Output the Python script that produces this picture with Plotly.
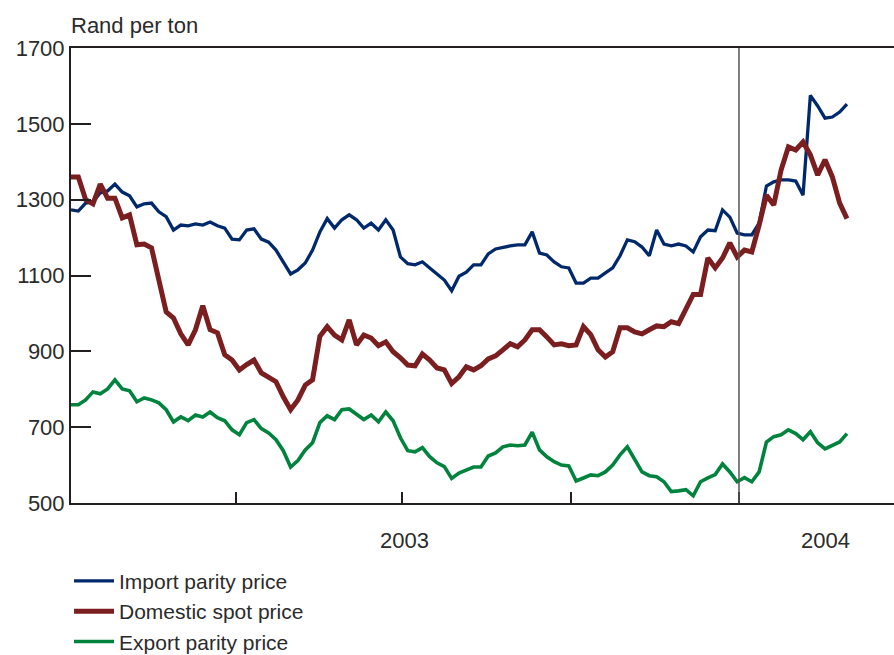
import pandas as pd
import plotly.graph_objects as go

# Sampling dates (every 4 days from start of 2003)
dates = pd.date_range("2003-01-01", periods=107, freq="4D")

import_parity = [
    1273, 1270, 1291, 1294, 1318, 1323, 1341, 1320, 1310, 1281,
    1289, 1291, 1268, 1255, 1220, 1233, 1231, 1236, 1233, 1241,
    1231, 1225, 1196, 1194, 1220, 1223, 1196, 1188, 1167, 1136,
    1104, 1115, 1133, 1167, 1215, 1250, 1225, 1247, 1260, 1247,
    1225, 1238, 1220, 1247, 1220, 1149, 1131, 1128, 1136, 1120,
    1104, 1088, 1060, 1098, 1109, 1128, 1128, 1157, 1170, 1175,
    1178, 1181, 1181, 1215, 1159, 1154, 1136, 1123, 1120, 1080,
    1080, 1093, 1093, 1107, 1120, 1152, 1194, 1189, 1175, 1152,
    1220, 1183, 1178, 1183, 1178, 1162, 1202, 1220, 1218, 1273,
    1254, 1212, 1207, 1207, 1238, 1336, 1347, 1352, 1352, 1349,
    1312, 1575, 1547, 1515, 1518, 1531, 1552,
]

domestic_spot = [
    1360, 1360, 1300, 1289, 1341, 1304, 1304, 1252, 1260, 1181,
    1183, 1173, 1088, 1004, 988, 946, 917, 957, 1020, 957,
    949, 891, 877, 851, 865, 877, 843, 830, 820, 780,
    746, 772, 811, 825, 940, 965, 943, 930, 983, 917,
    943, 935, 915, 925, 899, 883, 864, 862, 893, 877,
    856, 851, 815, 833, 859, 851, 862, 880, 888, 904,
    920, 912, 930, 957, 957, 938, 917, 920, 915, 917,
    965, 944, 904, 885, 899, 962, 962, 951, 946, 957,
    967, 965, 978, 973, 1012, 1050, 1050, 1146, 1120, 1146,
    1186, 1149, 1167, 1162, 1233, 1312, 1286, 1378, 1439, 1431,
    1452, 1418, 1365, 1405, 1360, 1291, 1250,
]

export_parity = [
    759, 759, 772, 793, 788, 801, 825, 801, 796, 767,
    777, 772, 764, 746, 714, 727, 717, 732, 727, 740,
    725, 717, 693, 680, 712, 720, 696, 685, 667, 638,
    595, 612, 640, 659, 712, 730, 720, 746, 748, 735,
    720, 732, 714, 740, 717, 672, 638, 635, 646, 622,
    606, 596, 565, 579, 587, 595, 595, 624, 632, 648,
    653, 651, 653, 687, 640, 622, 609, 600, 598, 558,
    566, 574, 572, 582, 600, 627, 648, 614, 582, 572,
    569, 556, 530, 532, 535, 519, 556, 566, 575, 603,
    582, 556, 567, 556, 582, 661, 675, 680, 693, 683,
    667, 688, 659, 643, 651, 661, 683,
]

series_names = ["Import parity price", "Domestic spot price", "Export parity price"]
series_colors = ["#00296b", "#7b1e1f", "#00843d"]
series_widths = [3.3, 5, 3.6]

quarter_ticks = ["2003-01-01", "2003-04-01", "2003-07-01", "2003-10-01", "2004-01-01"]
year_labels = ["2003", "2004"]
year_label_pos = ["2003-07-02", "2004-02-17"]
y_ticks = [500, 700, 900, 1100, 1300, 1500, 1700]

FONT = "Liberation Sans, Arial, sans-serif"
TXT = "#2b2b2b"
AXC = "#231f20"

fig = go.Figure()
for name, vals, col, w in zip(series_names, [import_parity, domestic_spot, export_parity],
                              series_colors, series_widths):
    fig.add_trace(go.Scatter(x=dates, y=vals, mode="lines", name=name,
                             line=dict(color=col, width=w)))

fig.add_shape(type="line", xref="x", yref="paper", x0="2004-01-01", x1="2004-01-01",
              y0=0, y1=1, line=dict(color="#555555", width=1.5))

for lab, pos in zip(year_labels, year_label_pos):
    fig.add_annotation(x=pos, xref="x", y=-0.083, yref="paper", text=lab,
                       showarrow=False, xanchor="center", yanchor="middle",
                       font=dict(family=FONT, size=22, color=TXT))

fig.add_annotation(x=0, xref="paper", y=1.0505, yref="paper", text="Rand per ton",
                   showarrow=False, xanchor="left", yanchor="middle", xshift=-2,
                   font=dict(family=FONT, size=22, color=TXT))

fig.update_layout(
    width=894, height=655,
    margin=dict(l=71, r=0, t=48, b=152, autoexpand=False),
    paper_bgcolor="white", plot_bgcolor="white",
    font=dict(family=FONT, size=22, color=TXT),
    showlegend=True,
    legend=dict(x=-0.0024, y=-0.127, xanchor="left", yanchor="top", itemwidth=40,
                font=dict(family=FONT, size=21, color=TXT),
                bgcolor="rgba(0,0,0,0)"),
    xaxis=dict(type="date", range=["2003-01-01", "2004-03-25 16:48"],
               tickvals=quarter_ticks, ticktext=[""] * len(quarter_ticks),
               ticks="inside", ticklen=11, tickwidth=2, tickcolor=AXC,
               showline=True, linecolor=AXC, linewidth=2, mirror=True,
               showgrid=False, zeroline=False),
    yaxis=dict(range=[500, 1700], tickvals=y_ticks,
               ticks="inside", ticklen=20, tickwidth=2, tickcolor=AXC,
               showline=True, linecolor=AXC, linewidth=2, mirror=False,
               showgrid=False, zeroline=False,
               tickfont=dict(family=FONT, size=22, color=TXT)),
)

fig.write_html("out.html", config={"displayModeBar": False},
               post_script="document.body.style.margin='0';")
